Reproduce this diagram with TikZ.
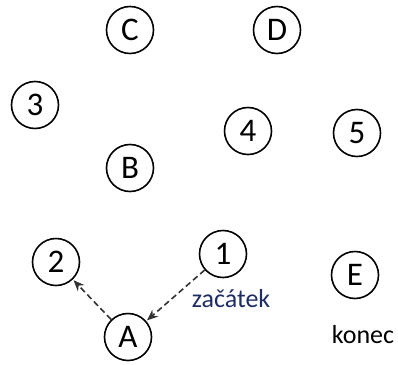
\documentclass[tikz,border=0pt]{standalone}
\usepackage{fontspec}
\setmainfont{Carlito}
\usetikzlibrary{arrows.meta}
\definecolor{labblue}{RGB}{30,45,100}
\tikzset{
  st/.style={circle,draw,line width=1.6pt,minimum size=47pt,inner sep=0pt,font=\fontsize{33}{33}\selectfont},
  lab/.style={font=\fontsize{26}{26}\selectfont,inner sep=0pt},
  mv/.style={dashed,dash pattern=on 6pt off 3.5pt,line width=1.6pt,draw=black!80,-{Stealth[length=11pt,width=9pt]},shorten >=1pt}
}
\begin{document}
\begin{tikzpicture}[x=1pt,y=-1pt]
\useasboundingbox (0,0) rectangle (398,364);
\node[st] (C) at (130,30) {C};
\node[st] (D) at (277,30) {D};
\node[st] (n3) at (35,105) {3};
\node[st] (n4) at (248,131) {4};
\node[st] (n5) at (357,133) {5};
\node[st] (B) at (130,168) {B};
\node[st] (n2) at (56,262) {2};
\node[st] (n1) at (223,254) {1};
\node[st] (A) at (128,337) {A};
\node[st] (E) at (355,275) {E};
\node[lab,text=labblue] (zac) at (231,299) {začátek};
\node[lab] (kon) at (363,335) {konec};
\draw[mv] (A) -- (n2);
\draw[mv] (n1) -- (A);
\end{tikzpicture}
\end{document}
